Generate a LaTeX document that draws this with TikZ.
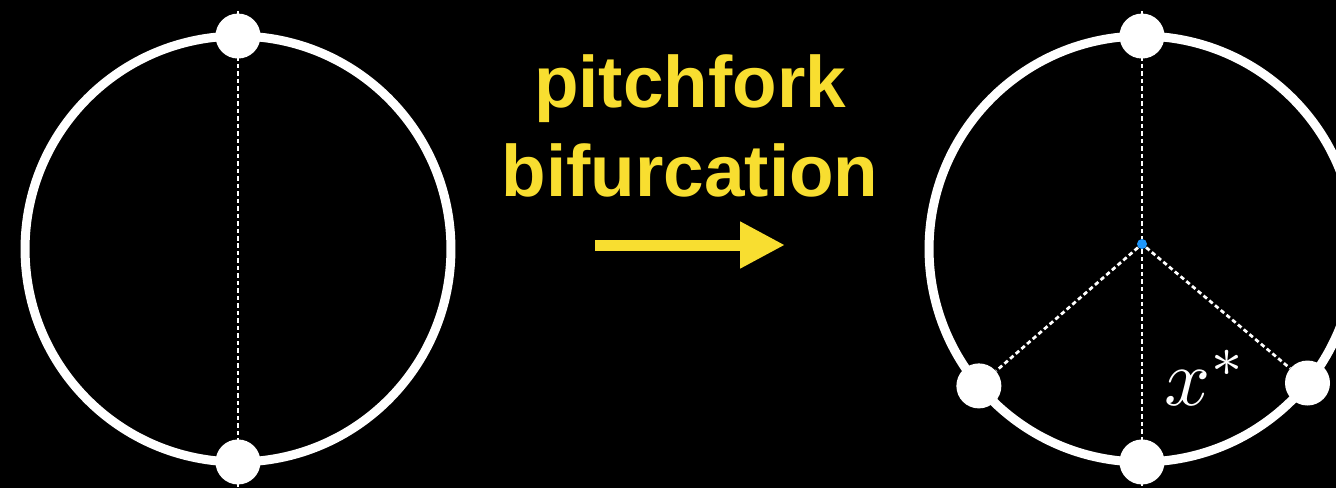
\documentclass[tikz,border=0pt]{standalone}
\usepackage{fontspec}
\newfontfamily\headfont{Liberation Sans}
\usetikzlibrary{arrows.meta}

\definecolor{signyellow}{RGB}{248,222,48}
\definecolor{hubblue}{RGB}{30,150,250}

\begin{document}
\begin{tikzpicture}[
    x=0.02cm, y=-0.02cm,
    ring/.style={draw=white, line width=0.18cm, circle, minimum size=8.52cm, inner sep=0, outer sep=0},
    dot/.style={fill=white, circle, minimum size=0.9cm, inner sep=0},
    hub/.style={fill=hubblue, circle, minimum size=0.2cm, inner sep=0},
    guide/.style={draw=white, line width=0.055cm, dash pattern=on 0.09cm off 0.06cm},
    >={Triangle[length=0.9cm, width=0.88cm]}
]
\fill[black] (0,0) rectangle (1336,488);
\clip (0,0) rectangle (1336,488);

% before
\node[ring] (left) at (238,249) {};
\node[dot] (ltop) at (left.north) {};
\node[dot] (lbot) at (left.south) {};
\draw[guide, shorten <=-0.5cm, shorten >=-0.5cm] (ltop.center) -- (lbot.center);

% label and arrow
\node[text=signyellow, font=\headfont\bfseries\fontsize{41.5}{51}\selectfont, align=center, inner sep=0] (title) at (690,126) {pitchfork\\bifurcation};
\coordinate (tail) at (595,245);
\coordinate (head) at (785,245);
\draw[->, signyellow, line width=0.22cm] (tail) -- (head);

% after
\node[ring] (right) at (1142,249) {};
\node[dot] (rtop) at (right.north) {};
\node[dot] (rbot) at (right.south) {};
\node[dot] (rleft) at (right.220) {};
\node[dot] (rright) at (right.-39) {};
\node[hub] (hub) at (1142,244) {};
\draw[guide, shorten <=-0.5cm] (rtop.center) -- (hub);
\draw[guide, shorten >=-0.5cm] (hub) -- (rbot.center);
\draw[guide] (hub) -- (rleft);
\draw[guide] (hub) -- (rright);
\node[text=white, scale=4.6] (xstar) at (1206,378) {$x^*$};
\end{tikzpicture}
\end{document}
